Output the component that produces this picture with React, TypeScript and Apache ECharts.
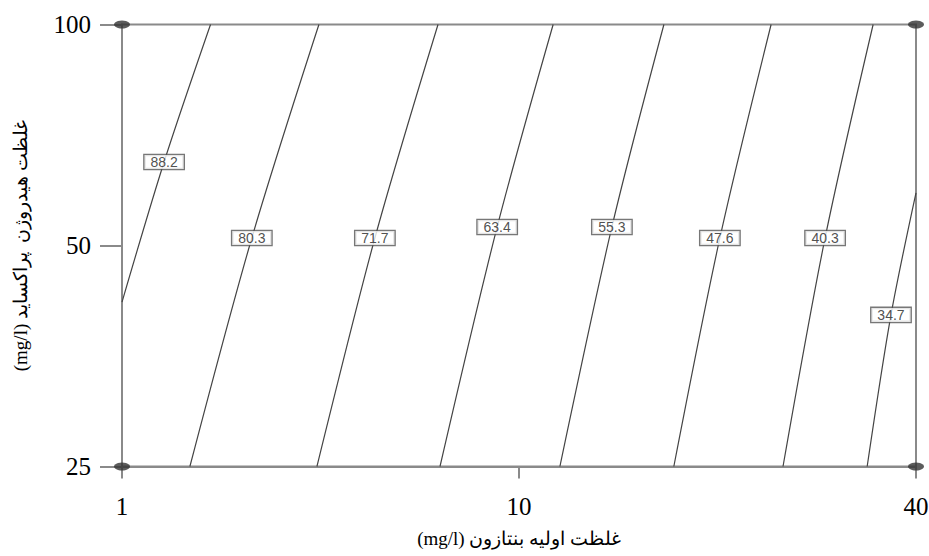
import React, { useEffect, useRef } from "react";
import * as echarts from "echarts";

// Coded design levels (-1, 0, +1) and their real tick labels
const xTickLabels: Record<string, string> = { "-1": "1", "0": "10", "1": "40" };
const yTickLabels: Record<string, string> = { "-1": "25", "0": "50", "1": "100" };

// Contour levels and their polylines in coded units [x, y]
const levels = ["88.2", "80.3", "71.7", "63.4", "55.3", "47.6", "40.3", "34.7"];
const contour882 = [[-0.777, 1], [-0.894, 0.378], [-1, -0.256]];
const contour803 = [[-0.504, 1], [-0.673, 0.034], [-0.829, -1]];
const contour717 = [[-0.204, 1], [-0.363, 0.034], [-0.509, -1]];
const contour634 = [[0.086, 1], [-0.055, 0.084], [-0.199, -1]];
const contour553 = [[0.365, 1], [0.234, 0.084], [0.103, -1]];
const contour476 = [[0.635, 1], [0.506, 0.034], [0.39, -1]];
const contour403 = [[0.892, 1], [0.771, 0.034], [0.665, -1]];
const contour347 = [[1, 0.238], [0.937, -0.314], [0.877, -1]];
const contours = [contour882, contour803, contour717, contour634, contour553, contour476, contour403, contour347];
// index of the point on each contour where its label sits
const labelIndex = [1, 1, 1, 1, 1, 1, 1, 1];

const corners = [[-1, -1], [-1, 1], [1, -1], [1, 1]];

const xName = "(mg/l) غلظت اولیه بنتازون";
const yName = "(mg/l) غلظت هیدروژن  پراکساید";

export default function App() {
  const ref = useRef<HTMLDivElement>(null);
  useEffect(() => {
    if (!ref.current) return;
    const chart = echarts.init(ref.current, undefined, { renderer: "svg" });
    const serif = "'Times New Roman', 'Liberation Serif', 'DejaVu Serif', serif";
    const axisLineStyle = { color: "#8a8a8a", width: 2 };
    const series: any[] = contours.map((pts) => ({
      type: "line",
      data: pts,
      symbol: "none",
      smooth: 0.3,
      clip: false,
      lineStyle: { color: "#444", width: 1.2 },
      silent: true,
    }));
    series.push({
      type: "scatter",
      data: contours.map((pts, i) => [pts[labelIndex[i]][0], pts[labelIndex[i]][1], levels[i]]),
      symbolSize: 0,
      clip: false,
      silent: true,
      z: 5,
      label: {
        show: true,
        position: "inside",
        formatter: (p: any) => p.value[2],
        fontFamily: "Arial, 'Liberation Sans', sans-serif",
        fontSize: 14,
        lineHeight: 14,
        color: "#222",
        backgroundColor: "#fff",
        borderColor: "#555",
        borderWidth: 1.3,
        padding: [0, 6],
      },
    });
    series.push({
      type: "scatter",
      data: corners,
      symbol: "circle",
      symbolSize: [16, 8],
      clip: false,
      silent: true,
      z: 6,
      itemStyle: { color: "#333" },
    });
    chart.setOption({
      animation: false,
      backgroundColor: "#fff",
      grid: {
        left: 122,
        right: 13,
        top: 24.5,
        bottom: 89.5,
        outerBoundsMode: "none",
        containLabel: false,
        show: true,
        borderColor: "#8a8a8a",
        borderWidth: 2,
        backgroundColor: "transparent",
      },
      xAxis: {
        type: "value",
        min: -1,
        max: 1,
        interval: 1,
        name: xName,
        nameLocation: "middle",
        nameGap: 62,
        nameTextStyle: { fontFamily: serif, fontSize: 19, color: "#000" },
        axisLine: { show: true, onZero: false, lineStyle: axisLineStyle },
        axisTick: { show: true, length: 12, lineStyle: axisLineStyle },
        splitLine: { show: false },
        axisLabel: {
          formatter: (v: number) => xTickLabels[String(v)] ?? "",
          fontFamily: serif,
          fontSize: 25,
          color: "#000",
          margin: 27,
        },
      },
      yAxis: {
        type: "value",
        min: -1,
        max: 1,
        interval: 1,
        name: yName,
        nameLocation: "middle",
        nameGap: 92,
        nameRotate: 90,
        nameTextStyle: { fontFamily: serif, fontSize: 19, color: "#000" },
        axisLine: { show: true, onZero: false, lineStyle: axisLineStyle },
        axisTick: { show: true, length: 22, lineStyle: axisLineStyle },
        splitLine: { show: false },
        axisLabel: {
          formatter: (v: number) => yTickLabels[String(v)] ?? "",
          fontFamily: serif,
          fontSize: 25,
          color: "#000",
          margin: 31,
        },
      },
      series,
    });
    return () => chart.dispose();
  }, []);
  return <div ref={ref} style={{ width: 929, height: 556, position: "absolute", left: 0, top: 0 }} />;
}
